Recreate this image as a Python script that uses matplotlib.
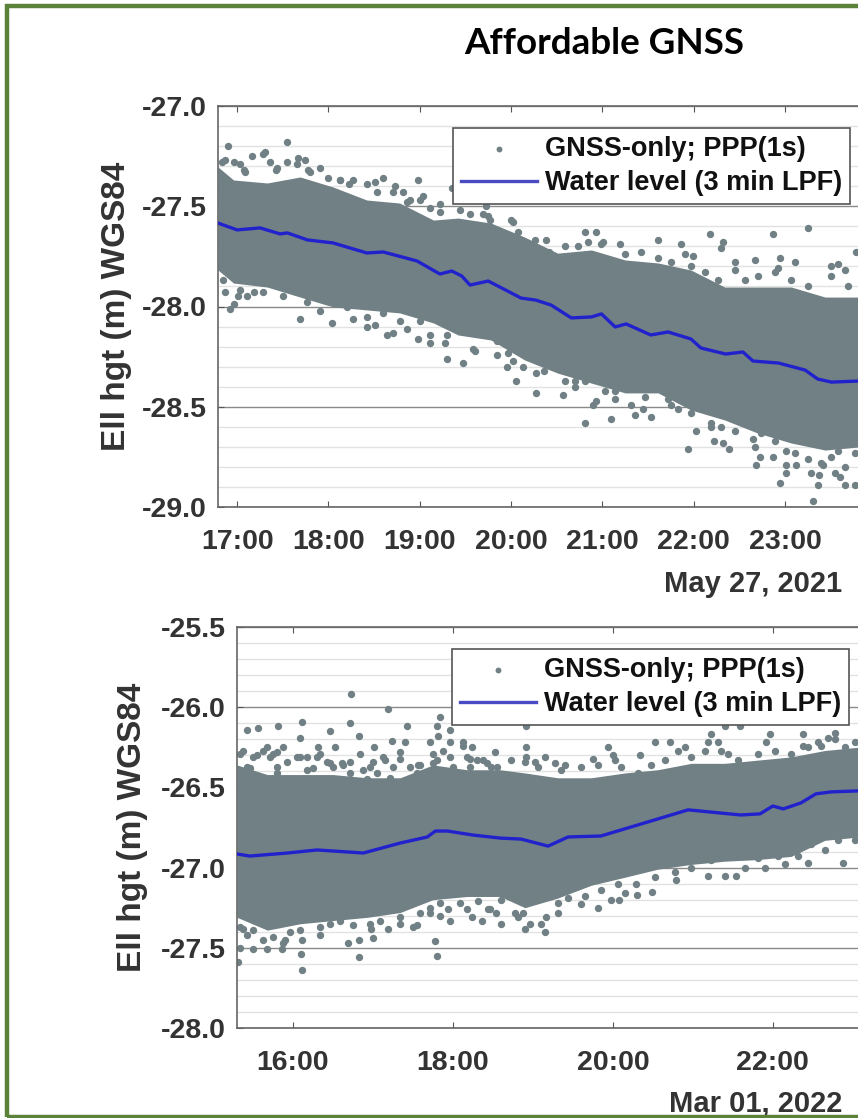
import matplotlib
matplotlib.use('Agg')
import matplotlib.pyplot as plt
from matplotlib.patches import Rectangle
from matplotlib.ticker import MultipleLocator

plt.rcParams['font.family'] = ['Liberation Sans']

# --- May 27, 2021 ---
level1_hours = [16.79, 17.00, 17.25, 17.47, 17.55, 17.77, 18.05, 18.42, 18.60, 18.97, 19.22, 19.35,
                19.46, 19.55, 19.75, 20.11, 20.27, 20.44, 20.66, 20.88, 20.99, 21.14, 21.26, 21.53,
                21.72, 21.97, 22.08, 22.35, 22.54, 22.65, 22.93, 23.22, 23.36, 23.51, 23.80]
level1_height = [-27.584, -27.618, -27.608, -27.638, -27.633, -27.668, -27.683, -27.733, -27.728,
                 -27.773, -27.838, -27.823, -27.848, -27.893, -27.873, -27.958, -27.968, -27.993,
                 -28.057, -28.052, -28.037, -28.102, -28.087, -28.142, -28.127, -28.162, -28.207,
                 -28.237, -28.227, -28.272, -28.282, -28.317, -28.362, -28.377, -28.372]

# solid part of the point cloud
cloud1_hours = [16.79, 16.96, 17.33, 17.69, 18.05, 18.42, 18.78, 19.15, 19.42, 19.78, 20.15,
                20.51, 20.88, 21.25, 21.61, 21.97, 22.34, 22.70, 23.07, 23.44, 23.80]
cloud1_upper = [-27.304, -27.369, -27.384, -27.354, -27.404, -27.469, -27.484, -27.569, -27.559,
                -27.584, -27.654, -27.734, -27.718, -27.768, -27.783, -27.818, -27.903, -27.903,
                -27.903, -27.953, -27.953]
cloud1_lower = [-27.818, -27.883, -27.903, -27.953, -28.002, -28.017, -28.032, -28.082, -28.142,
                -28.167, -28.267, -28.332, -28.382, -28.431, -28.431, -28.516, -28.566, -28.631,
                -28.681, -28.716, -28.701]

# separate points around the cloud
dots1_hours = [16.90, 17.55, 17.31, 17.16, 16.87, 17.67, 17.74, 17.91, 18.60, 18.51, 18.98, 18.27,
               18.73, 18.82, 19.03, 19.35, 17.03, 17.42, 17.09, 17.80, 18.13, 18.89, 19.22, 19.55,
               16.92, 16.96, 16.87, 17.01, 17.11, 17.28, 17.69, 18.04, 17.91, 18.27, 18.42, 18.51,
               18.71, 18.86, 18.64, 18.98, 19.11, 19.28, 19.30, 19.47, 19.85,
               19.72, 20.00, 20.81, 20.93, 21.61, 22.18, 22.87, 23.25, 22.32, 22.30, 21.86, 21.91,
               21.99, 22.67, 22.95, 23.11, 23.78, 22.92, 22.45, 23.58, 23.50, 21.19, 21.01, 20.84, 21.42,
               20.27, 20.27, 20.36, 20.05, 19.95, 20.13, 20.57, 20.70, 20.93, 20.90, 20.81, 21.10,
               21.36, 21.45, 21.53, 21.14, 21.75, 21.94, 22.03, 22.22, 22.32, 22.39, 22.19, 22.67,
               22.65, 22.68, 22.73, 22.87, 22.95, 23.01, 23.01, 23.12, 23.29, 23.37, 23.55, 23.60,
               23.66, 23.66, 23.77, 23.36, 23.31, 23.42]
dots1_height = [-27.20, -27.18, -27.23, -27.25, -27.27, -27.26, -27.27, -27.31, -27.36, -27.38, -27.37, -27.37,
                -27.40, -27.43, -27.45, -27.41, -27.29, -27.32, -27.33, -27.33, -27.37, -27.47, -27.49, -27.54,
                -28.01, -27.99, -27.93, -27.95, -27.95, -27.93, -28.06, -28.08, -28.02, -28.06, -28.10, -28.09,
                -28.13, -28.11, -28.14, -28.16, -28.18, -28.18, -28.26, -28.28, -28.24,
                -27.50, -27.57, -27.63, -27.63, -27.67, -27.64, -27.64, -27.61, -27.68, -27.71, -27.69, -27.74,
                -27.75, -27.77, -27.76, -27.78, -27.73, -27.81, -27.78, -27.79, -27.80, -27.69, -27.68, -27.68, -27.73,
                -28.43, -28.33, -28.32, -28.37, -28.30, -28.30, -28.44, -28.40, -28.47, -28.49, -28.58, -28.56,
                -28.54, -28.51, -28.55, -28.46, -28.49, -28.71, -28.62, -28.67, -28.68, -28.71, -28.60, -28.70,
                -28.66, -28.79, -28.75, -28.75, -28.88, -28.83, -28.79, -28.79, -28.83, -28.84, -28.83, -28.85,
                -28.80, -28.89, -28.89, -28.89, -28.97, -28.79]

# points of the ragged fringe along the cloud
edge1_hours = [16.83, 16.96, 17.07, 17.28, 17.36, 17.44, 17.55, 17.66, 17.78, 17.99, 18.13, 18.22, 18.42, 18.53,
               18.71, 18.86, 19.00, 19.11, 19.22, 19.44, 19.55, 19.69, 19.77, 19.75, 20.02, 20.08, 20.26, 20.38,
               20.41, 20.59, 20.73, 20.99, 21.25, 21.61, 21.75, 21.97, 22.12, 22.27, 22.45, 22.56, 22.70, 22.89,
               23.07, 23.25, 23.50, 23.66, 23.69,
               16.84, 17.03, 17.18, 17.50, 17.58, 17.77, 17.88, 18.05, 18.20, 18.42, 18.60, 18.78, 19.00, 19.19,
               19.41, 19.63, 19.11, 19.30, 19.58, 19.85, 19.61, 19.97, 20.02, 20.30, 20.48, 20.59, 20.70, 20.81,
               21.03, 21.14, 21.25, 21.31, 21.47, 21.72, 21.83, 21.97, 22.19, 22.30, 22.45, 22.56, 22.74, 22.89,
               23.01, 23.11, 23.25, 23.39, 23.50, 23.58, 23.77]
edge1_height = [-27.28, -27.28, -27.32, -27.24, -27.28, -27.31, -27.28, -27.29, -27.32, -27.36, -27.37, -27.39, -27.39, -27.43,
                -27.43, -27.48, -27.47, -27.51, -27.53, -27.52, -27.60, -27.54, -27.57, -27.55, -27.58, -27.63, -27.67, -27.67,
                -27.73, -27.70, -27.70, -27.69, -27.74, -27.76, -27.78, -27.80, -27.83, -27.87, -27.82, -27.87, -27.85, -27.83,
                -27.87, -27.90, -27.85, -27.82, -27.90,
                -27.87, -27.92, -27.93, -27.95, -27.90, -27.98, -27.95, -27.98, -28.00, -28.05, -28.03, -28.07, -28.07, -28.05,
                -28.10, -28.12, -28.14, -28.14, -28.21, -28.17, -28.22, -28.23, -28.27, -28.27, -28.30, -28.37, -28.37, -28.37,
                -28.42, -28.42, -28.40, -28.49, -28.45, -28.46, -28.51, -28.53, -28.58, -28.60, -28.62, -28.58, -28.63, -28.67,
                -28.72, -28.73, -28.76, -28.78, -28.75, -28.72, -28.73]

# --- Mar 01, 2022 ---
level2_hours = [15.30, 15.46, 15.93, 16.30, 16.88, 17.34, 17.68, 17.78, 17.93, 18.25, 18.59, 18.85, 19.19,
                19.44, 19.85, 20.44, 20.94, 21.60, 21.84, 22.00, 22.13, 22.35, 22.54, 22.73, 23.06]
level2_height = [-26.915, -26.928, -26.909, -26.890, -26.909, -26.847, -26.809, -26.772, -26.772, -26.797,
                 -26.816, -26.822, -26.866, -26.809, -26.803, -26.715, -26.640, -26.672, -26.665, -26.616,
                 -26.634, -26.597, -26.540, -26.528, -26.522]

cloud2_hours = [15.30, 15.68, 16.09, 16.50, 16.93, 17.34, 17.75, 18.18, 18.59, 18.90, 19.31, 19.73,
                20.15, 20.56, 20.98, 21.40, 21.81, 22.23, 22.65, 23.06]
cloud2_upper = [-26.36, -26.42, -26.42, -26.42, -26.44, -26.44, -26.36, -26.39, -26.39, -26.41, -26.44,
                -26.44, -26.41, -26.39, -26.35, -26.35, -26.33, -26.31, -26.27, -26.25]
cloud2_lower = [-27.31, -27.39, -27.35, -27.33, -27.31, -27.28, -27.20, -27.18, -27.18, -27.25, -27.19,
                -27.11, -27.06, -27.01, -26.98, -26.96, -26.95, -26.93, -26.83, -26.81]

dots2_hours = [15.43, 15.56, 15.81, 16.11, 16.09, 16.46, 16.71, 16.73, 17.19, 17.43, 16.83, 17.24, 16.53, 17.01,
               16.31, 15.88, 15.68, 15.38, 17.84, 17.80, 17.96, 17.81, 17.71, 17.96, 18.13, 18.24, 18.53, 17.40,
               16.84, 17.13, 17.34, 16.09, 16.34, 15.55, 15.75, 15.46, 15.80, 16.25, 16.46, 16.63, 16.71, 17.00,
               17.59, 17.75, 18.38, 18.21, 18.91, 18.91, 18.13, 18.21, 18.91, 19.15, 19.28, 19.40, 19.03, 19.75,
               19.94, 20.00, 20.34, 20.53, 20.71, 20.90, 21.23, 21.19, 21.31, 21.40, 21.59, 21.44, 21.96, 21.91,
               22.38, 22.38, 22.78, 22.69, 22.56,
               15.38, 15.31, 15.34, 15.50, 15.68, 15.86, 16.10, 16.11, 16.11, 16.69, 16.83, 16.83, 17.00, 16.98,
               17.19, 17.78, 17.80, 17.71, 17.96, 17.84, 18.24, 18.36, 17.94, 17.50, 17.34, 16.34, 15.88, 18.60,
               18.90, 19.15, 19.10, 18.96, 18.81, 18.54, 18.44, 19.16, 19.31, 19.60, 19.81, 19.98, 20.08, 20.15,
               20.30, 20.49, 20.29, 20.79, 21.40, 21.54, 21.19, 22.44, 22.15, 22.88]
dots2_height = [-26.14, -26.13, -26.12, -26.09, -26.19, -26.15, -26.10, -25.92, -26.01, -26.12, -26.18, -26.21, -26.25, -26.25,
                -26.25, -26.25, -26.25, -26.27, -26.06, -26.12, -26.14, -26.18, -26.22, -26.22, -26.24, -26.25, -26.28, -26.22,
                -26.29, -26.31, -26.28, -26.31, -26.29, -26.30, -26.29, -26.38, -26.37, -26.38, -26.35, -26.36, -26.34, -26.34,
                -26.36, -26.29, -26.33, -26.37, -26.12, -26.25, -26.22, -26.32, -26.31, -26.31, -26.35, -26.36, -26.34, -26.32,
                -26.25, -26.30, -26.30, -26.22, -26.22, -26.25, -26.17, -26.22, -26.22, -26.12, -26.12, -26.29, -26.17, -26.22,
                -26.17, -26.24, -26.16, -26.19, -26.22,
                -27.38, -27.59, -27.50, -27.51, -27.51, -27.51, -27.54, -27.64, -27.45, -27.47, -27.45, -27.56, -27.44, -27.38,
                -27.38, -27.46, -27.55, -27.28, -27.33, -27.30, -27.31, -27.33, -27.26, -27.37, -27.35, -27.42, -27.47, -27.35,
                -27.38, -27.40, -27.35, -27.35, -27.31, -27.28, -27.26, -27.31, -27.28, -27.23, -27.25, -27.20, -27.20, -27.16,
                -27.17, -27.15, -27.10, -27.08, -27.05, -27.05, -27.05, -26.97, -26.98, -26.97]

edge2_hours = [15.34, 15.43, 15.50, 15.63, 15.71, 15.80, 15.93, 16.05, 16.18, 16.30, 16.43, 16.50, 16.61, 16.88, 16.96,
               17.05, 17.15, 17.25, 17.34, 17.46, 17.56, 17.80, 17.88, 17.96, 18.00, 18.18, 18.30, 18.43, 18.55,
               15.80, 16.18, 16.71, 16.93, 17.21, 17.55, 17.75,
               18.48, 18.73, 18.90, 19.06, 19.35, 19.60, 19.81, 20.03, 20.10, 20.31, 20.48, 20.65, 20.81, 20.98,
               21.15, 21.35, 21.56, 21.81, 22.03, 22.23, 22.44, 22.60, 22.78, 23.03, 22.90,
               15.34, 15.43, 15.50, 15.63, 15.75, 15.90, 15.96, 16.09, 16.34, 16.46, 16.59, 16.75, 16.96, 17.09,
               17.34, 17.55, 17.59, 17.71, 17.84, 18.09, 18.18, 18.46, 18.31, 18.60, 18.78, 18.88, 19.31, 19.44,
               19.65, 19.85, 20.06, 20.53, 20.78, 20.98, 21.65, 21.90,
               20.98, 21.23, 21.81, 22.06, 22.31, 22.48, 22.65, 22.81, 23.03]
edge2_height = [-26.29, -26.37, -26.31, -26.27, -26.31, -26.28, -26.34, -26.31, -26.31, -26.31, -26.34, -26.37, -26.35, -26.39, -26.37,
                -26.41, -26.33, -26.37, -26.32, -26.37, -26.36, -26.33, -26.27, -26.31, -26.37, -26.31, -26.33, -26.35, -26.37,
                -26.41, -26.39, -26.41, -26.45, -26.44, -26.41, -26.35,
                -26.37, -26.33, -26.34, -26.37, -26.39, -26.37, -26.36, -26.33, -26.37, -26.41, -26.36, -26.33, -26.27, -26.31,
                -26.27, -26.27, -26.33, -26.29, -26.27, -26.29, -26.25, -26.24, -26.20, -26.22, -26.25,
                -27.37, -27.42, -27.39, -27.45, -27.43, -27.45, -27.40, -27.39, -27.37, -27.35, -27.33, -27.36, -27.35, -27.33,
                -27.31, -27.36, -27.28, -27.25, -27.22, -27.22, -27.26, -27.26, -27.21, -27.20, -27.28, -27.28, -27.22, -27.19,
                -27.18, -27.14, -27.10, -27.06, -27.03, -27.00, -27.00, -27.00,
                -26.95, -26.95, -26.94, -26.93, -26.93, -26.85, -26.89, -26.83, -26.83]

ticks1_hours = [17, 18, 19, 20, 21, 22, 23]
ticks1_labels = ['17:00', '18:00', '19:00', '20:00', '21:00', '22:00', '23:00']
ticks2_hours = [16, 18, 20, 22]
ticks2_labels = ['16:00', '18:00', '20:00', '22:00']
yticks1 = [-29.0, -28.5, -28.0, -27.5, -27.0]
yticks2 = [-28.0, -27.5, -27.0, -26.5, -26.0, -25.5]

W, H = 858, 1118
TEXT = '#333333'
CLOUD = '#708085'
LINE = '#2222cc'


def add_panel(fig, box, xlim, ylim, cloud, dots, level, xt, xl, yt, legend_xy, date, date_y, label_x):
    # box is left, top, right, bottom in image pixels; right runs past the image edge
    left, top, right, bottom = box
    ax = fig.add_axes([left / W, 1 - bottom / H, (right - left) / W, (bottom - top) / H])
    ax.set_xlim(*xlim)
    ax.set_ylim(*ylim)

    ax.fill_between(cloud[0], cloud[1], cloud[2], color=CLOUD, lw=0, zorder=2)
    pts = ax.scatter(dots[0], dots[1], s=28, c=CLOUD, linewidths=0, zorder=2.5, label='GNSS-only; PPP(1s)')
    wl, = ax.plot(level[0], level[1], c=LINE, lw=2.4, zorder=3, label='Water level (3 min LPF)')

    ax.yaxis.set_minor_locator(MultipleLocator(0.1))
    ax.grid(True, which='major', axis='y', color='#8a8a8a', lw=1)
    ax.grid(True, which='minor', axis='y', color='#e2e2e2', lw=1)
    ax.set_axisbelow(True)

    ax.set_xticks(xt)
    ax.set_xticklabels(xl)
    ax.set_yticks(yt)
    ax.set_yticklabels(['%.1f' % v for v in yt])
    ax.tick_params(axis='both', which='major', direction='in', length=4, width=0.8, color='#555555',
                   labelsize=20.5, labelcolor=TEXT, top=True)
    ax.tick_params(axis='x', pad=16)
    ax.tick_params(axis='y', pad=8)
    ax.tick_params(axis='y', which='minor', length=0)
    for lab in ax.get_xticklabels() + ax.get_yticklabels():
        lab.set_fontweight('bold')
    for side in ax.spines.values():
        side.set_color('#666666')
        side.set_linewidth(1.2)

    fig.text(label_x / W, 1 - (top + bottom) / 2 / H, 'Ell hgt (m) WGS84', rotation=90, ha='center', va='center',
             fontsize=24, fontweight='bold', color=TEXT)
    fig.text(842 / W, 1 - date_y / H, date, ha='right', va='center', fontsize=21, fontweight='bold', color=TEXT)

    leg = ax.legend(handles=[pts, wl], loc='upper left', bbox_to_anchor=(legend_xy[0] / W, 1 - legend_xy[1] / H),
                    bbox_transform=fig.transFigure, prop={'weight': 'bold', 'size': 19.5}, fancybox=False,
                    framealpha=1, edgecolor='#555555', borderpad=0.3, labelspacing=0.3, handlelength=2.8,
                    handletextpad=0.3, borderaxespad=0, scatterpoints=1, markerscale=0.8, labelcolor='#111111')
    leg.get_frame().set_linewidth(1.2)
    leg.legend_handles[1].set_color('#4a4ac4')
    leg.set_zorder(10)
    return ax


fig = plt.figure(figsize=(W / 100, H / 100), dpi=100, facecolor='white')

add_panel(fig, (218, 106, 900, 507), (16.79, 24.26), (-29.0, -27.0),
          (cloud1_hours, cloud1_upper, cloud1_lower), (dots1_hours + edge1_hours, dots1_height + edge1_height),
          (level1_hours, level1_height),
          ticks1_hours, ticks1_labels, yticks1, (453, 128), 'May 27, 2021', 584, 116)
add_panel(fig, (237, 627, 900, 1028), (15.30, 23.59), (-28.0, -25.5),
          (cloud2_hours, cloud2_upper, cloud2_lower), (dots2_hours + edge2_hours, dots2_height + edge2_height),
          (level2_hours, level2_height),
          ticks2_hours, ticks2_labels, yticks2, (452, 649), 'Mar 01, 2022', 1103, 133)

fig.text(604 / W, 1 - 43 / H, 'Affordable GNSS', ha='center', va='center', fontsize=26.5, fontweight='bold',
         family=['Lato', 'Liberation Sans'], color='black')

# green frame, open on the right where the picture is cut
fig.add_artist(Rectangle((7 / W, 1 - 1117 / H), 900 / W, 1111.5 / H, transform=fig.transFigure, fill=False,
                         edgecolor='#5b8239', lw=3.2, zorder=20))

fig.savefig('out.png', dpi=100)
